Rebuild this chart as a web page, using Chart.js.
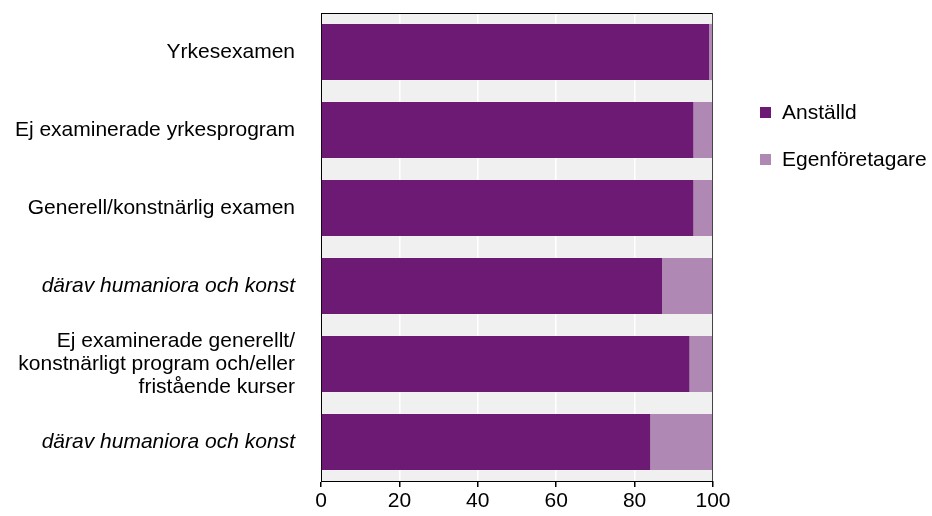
<!DOCTYPE html>
<html>
<head>
<meta charset="utf-8">
<script src="https://cdn.jsdelivr.net/npm/chart.js@4"></script>
<style>
  body { margin: 0; background: #fff; }
  #box { position: relative; width: 932px; height: 516px; }
  .leg { position: absolute; left: 760px; font: 21px "Liberation Sans", Arial, sans-serif; color: #000; line-height: 24px; }
  .leg span { display: inline-block; width: 11px; height: 11px; margin-right: 11px; vertical-align: 1px; }
</style>
</head>
<body>
<div id="box">
  <canvas id="barChart"></canvas>
  <div class="leg" style="top:100px"><span style="background:#6d1a74"></span>Anställd</div>
  <div class="leg" style="top:147px"><span style="background:#b088b4"></span>Egenföretagare</div>
</div>
<script>
const categories = [
  "Yrkesexamen",
  "Ej examinerade yrkesprogram",
  "Generell/konstnärlig examen",
  "därav humaniora och konst",
  ["Ej examinerade generellt/", "konstnärligt program och/eller", "fristående kurser"],
  "därav humaniora och konst"
];
const italicRows = [3, 5];
const anstalld = [99, 95, 95, 87, 94, 84];
const egen = [1, 5, 5, 13, 6, 16];
const xTicks = [0, 20, 40, 60, 80, 100];

const plotBg = {
  id: "plotBg",
  beforeDraw(chart) {
    const { ctx, chartArea: a } = chart;
    ctx.save();
    ctx.fillStyle = "#f0f0f0";
    ctx.fillRect(a.left, a.top, a.right - a.left, a.bottom - a.top);
    ctx.restore();
  },
  afterDraw(chart) {
    const { ctx, chartArea: a } = chart;
    ctx.save();
    ctx.strokeStyle = "#000";
    ctx.lineWidth = 1;
    ctx.beginPath();
    ctx.moveTo(a.left, a.top + 0.5);
    ctx.lineTo(a.right, a.top + 0.5);
    ctx.stroke();
    ctx.strokeStyle = "#444";
    ctx.beginPath();
    ctx.moveTo(a.right - 0.5, a.top);
    ctx.lineTo(a.right - 0.5, a.bottom);
    ctx.stroke();
    ctx.restore();
  }
};

new Chart(document.getElementById("barChart"), {
  type: "bar",
  data: {
    labels: categories,
    datasets: [
      { label: "Anställd", data: anstalld, backgroundColor: "#6d1a74", barPercentage: 0.72, categoryPercentage: 1 },
      { label: "Egenföretagare", data: egen, backgroundColor: "#b088b4", barPercentage: 0.72, categoryPercentage: 1 }
    ]
  },
  options: {
    indexAxis: "y",
    responsive: true,
    maintainAspectRatio: false,
    animation: false,
    layout: { padding: { top: 13, right: 219, left: 0, bottom: 0 } },
    plugins: { legend: { display: false }, tooltip: { enabled: false } },
    scales: {
      x: {
        stacked: true,
        min: 0,
        max: 100,
        afterBuildTicks: (s) => { s.ticks = xTicks.map(v => ({ value: v })); },
        afterFit: (s) => { s.height = 35; s.paddingLeft = 0; s.paddingRight = 0; },
        grid: { color: "#ffffff", lineWidth: 1.5, tickColor: "#000", tickLength: 6, drawOnChartArea: true },
        border: { color: "#000", width: 1 },
        ticks: { color: "#000", padding: 2, font: { family: "'Liberation Sans', Arial, sans-serif", size: 21 } }
      },
      y: {
        stacked: true,
        afterFit: (s) => { s.width = 321; s.paddingTop = 0; s.paddingBottom = 0; },
        grid: { display: false, drawTicks: false },
        border: { color: "#000", width: 1 },
        ticks: {
          color: "#000",
          padding: 26,
          font: (c) => ({
            family: "'Liberation Sans', Arial, sans-serif",
            size: 21,
            style: italicRows.includes(c.index) ? "italic" : "normal",
            lineHeight: 1.1
          })
        }
      }
    }
  },
  plugins: [plotBg]
});
</script>
</body>
</html>
